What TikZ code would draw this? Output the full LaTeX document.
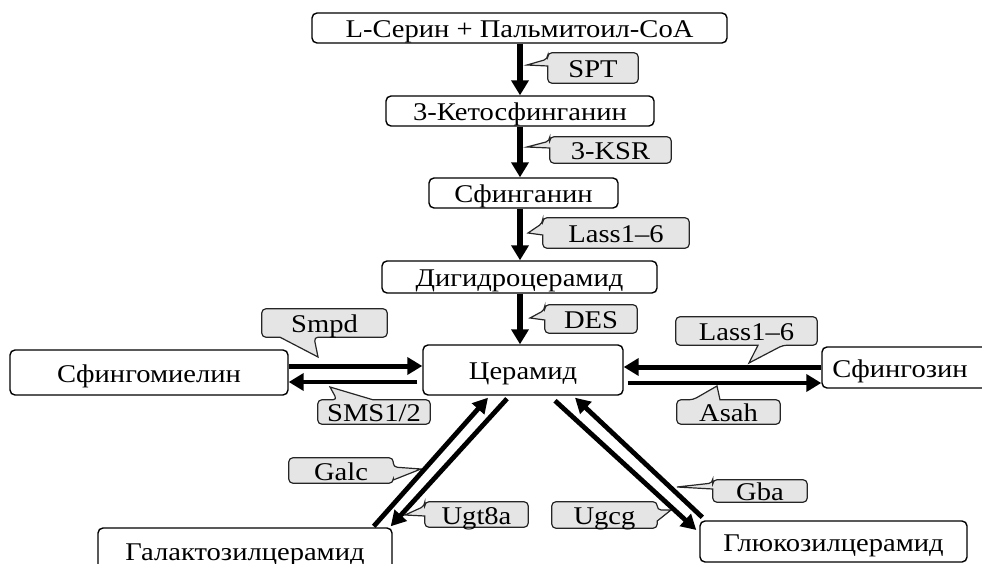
\documentclass[tikz,border=0pt]{standalone}
\usepackage{fontspec}
\setmainfont{Liberation Serif}[FakeStretch=1.12]
\usetikzlibrary{arrows.meta,backgrounds,calc}
\tikzset{
  every node/.style={font=\fontsize{25.5pt}{29pt}\selectfont, text height=20.5pt, text depth=1.5pt},
  box/.style={draw, line width=1.4pt, rounded corners=5pt, fill=white, inner sep=0pt},
  cotext/.style={inner sep=0pt},
  co/.style={draw=black!85, line width=1.2pt, fill=black!10, rounded corners=4pt},
  arr/.style={line width=5.5pt, -{Triangle[width=17pt,length=15pt]}},
  arrh/.style={line width=5pt, -{Triangle[width=17pt,length=15pt]}},
  arrd/.style={line width=4.8pt, -{Triangle[width=16pt,length=15pt]}}
}
\newcommand\coL[4]{\path[co] (#1.north) -- (#1.north west) -- (#1.west |- 0,#2) [sharp corners]-- (#4) -- (#1.west |- 0,#3) [rounded corners=4pt]-- (#1.south west) -- (#1.south east) -- (#1.north east) -- cycle;}
\newcommand\coR[4]{\path[co] (#1.north) -- (#1.north east) -- (#1.east |- 0,#2) [sharp corners]-- (#4) -- (#1.east |- 0,#3) [rounded corners=4pt]-- (#1.south east) -- (#1.south west) -- (#1.north west) -- cycle;}
\newcommand\coB[4]{\path[co] (#1.north) -- (#1.north east) -- (#1.south east) -- (#1.south -| #3,0) [sharp corners]-- (#4) -- (#1.south -| #2,0) [rounded corners=4pt]-- (#1.south west) -- (#1.north west) -- cycle;}
\newcommand\coT[4]{\path[co] (#1.south) -- (#1.south west) -- (#1.north west) -- (#1.north -| #2,0) [sharp corners]-- (#4) -- (#1.north -| #3,0) [rounded corners=4pt]-- (#1.north east) -- (#1.south east) -- cycle;}
\begin{document}
\begin{tikzpicture}[x=1pt,y=-1pt]
\useasboundingbox (0,0) rectangle (982,564);
\clip (0,0) rectangle (982,564);
% main boxes
\node[box, minimum width=415pt, minimum height=30pt] (top) at (519.5,28) {L-Серин + Пальмитоил-CoA};
\node[box, minimum width=268pt, minimum height=30pt] (keto) at (520,111) {3-Кетосфинганин};
\node[box, minimum width=189pt, minimum height=30pt] (sph) at (523.5,193) {Сфинганин};
\node[box, minimum width=275pt, minimum height=32pt] (dih) at (519.5,277) {Дигидроцерамид};
\node[box, minimum width=200pt, minimum height=50pt] (cer) at (523,370) {Церамид};
\node[box, minimum width=278pt, minimum height=45pt] (sm) at (149,372.5) {Сфингомиелин};
\node[box, minimum width=170pt, minimum height=41pt] (so) at (907,367.5) {\hspace*{-14pt}Сфингозин};
\node[box, minimum width=294pt, minimum height=45pt] (gal) at (245,550.5) {Галактозилцерамид};
\node[box, minimum width=267pt, minimum height=41pt] (glu) at (833.5,541.5) {Глюкозилцерамид};
% callout texts
\node[cotext, minimum width=90pt, minimum height=30pt] (spt) at (593,68) {SPT};
\node[cotext, minimum width=121pt, minimum height=26pt] (ksr) at (610.5,150) {3-KSR};
\node[cotext, minimum width=146pt, minimum height=30pt] (lassv) at (616,233) {Lass1–6};
\node[cotext, minimum width=92pt, minimum height=28pt] (des) at (591,319) {DES};
\node[cotext, minimum width=125pt, minimum height=28pt] (smpd) at (324.5,323) {Smpd};
\node[cotext, minimum width=112pt, minimum height=24pt] (sms) at (374,412) {SMS1/2};
\node[cotext, minimum width=141pt, minimum height=28pt] (lassr) at (746.5,331) {Lass1–6};
\node[cotext, minimum width=103pt, minimum height=24pt] (asah) at (728.5,412) {Asah};
\node[cotext, minimum width=104pt, minimum height=25pt] (galc) at (341,470.5) {Galc};
\node[cotext, minimum width=103pt, minimum height=25pt] (ugt) at (476.5,514.5) {Ugt8a};
\node[cotext, minimum width=105pt, minimum height=26pt] (ugcg) at (604.5,515) {Ugcg};
\node[cotext, minimum width=94pt, minimum height=22pt] (gba) at (760,491) {Gba};
% callout shapes
\begin{scope}[on background layer]
\coL{spt}{59}{66}{527,65}
\coL{ksr}{141}{148}{527,147}
\coL{lassv}{223}{235}{528,233}
\coL{des}{310}{320}{530,318}
\coB{smpd}{280}{314}{318,357}
\coT{sms}{337}{373}{330,387}
\coB{lassr}{758}{783}{749,363}
\coT{asah}{693}{720}{717,386}
\coR{galc}{467}{480}{421,469}
\coL{ugt}{506}{516}{405,515}
\coR{ugcg}{510}{521}{671,510}
\coL{gba}{483}{489}{677,487}
\end{scope}
% vertical arrows
\draw[arr] (top.south -| keto.north) -- (keto.north);
\draw[arr] (keto.south) -- (keto.south |- sph.north);
\draw[arr] (sph.south -| keto.south) -- (keto.south |- dih.north);
\draw[arr] (dih.south -| keto.south) -- (keto.south |- cer.north);
% horizontal arrows
\draw[arrh] (sm.east |- 0,366) -- (cer.west |- 0,366);
\draw[arrh, line width=4.5pt] ($(cer.west |- 0,382)+(-5,0)$) -- (sm.east |- 0,382);
\draw[arrh] (so.west |- 0,367) -- (cer.east |- 0,367);
\draw[arrh, line width=4.8pt] ($(cer.east |- 0,383)+(4,0)$) -- (so.west |- 0,383);
% diagonal arrows
\draw[arrd] ($(gal.north east)+(-19,-1)$) -- ($(cer.south)+(-35,2)$);
\draw[arrd] ($(cer.south)+(-16,3)$) -- ($(gal.north east)+(-2,-1)$);
\draw[arrd] ($(cer.south)+(32,5)$) -- ($(glu.west)+(-3,-11.5)$);
\draw[arrd] ($(glu.north west)+(3,-3)$) -- ($(cer.south)+(52,2)$);
\end{tikzpicture}
\end{document}
